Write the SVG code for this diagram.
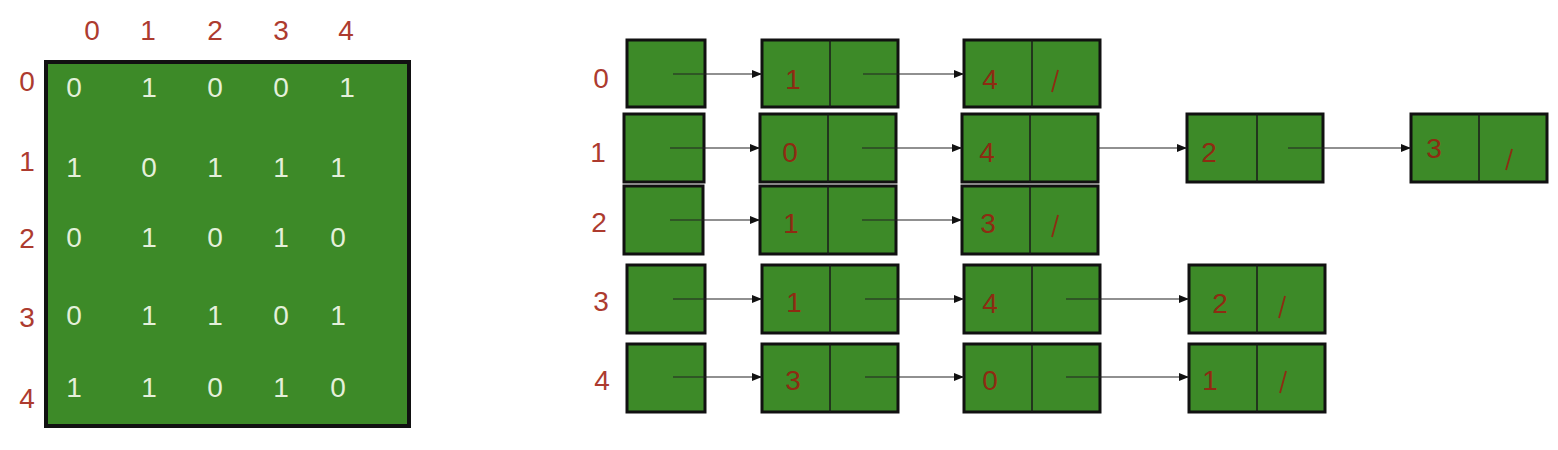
<svg xmlns="http://www.w3.org/2000/svg" width="1558" height="450" viewBox="0 0 1558 450">
<defs>
<marker id="ah" markerWidth="10" markerHeight="8" refX="10" refY="4" orient="auto" markerUnits="userSpaceOnUse">
<path d="M0,0 L10,4 L0,8 z" fill="#111"/>
</marker>
<style>
.lbl{font-family:"Liberation Sans",Arial,sans-serif;font-size:28px;fill:#ad3b2f;text-anchor:middle}
.cell{font-family:"Liberation Sans",Arial,sans-serif;font-size:28px;fill:#e4f0da;text-anchor:middle}
.val{font-family:"Liberation Sans",Arial,sans-serif;font-size:28px;fill:#8e2b12;text-anchor:middle}
.box{fill:#3d8a28;stroke:#111;stroke-width:3}
.mat{fill:#3d8a28;stroke:#111;stroke-width:4}
.div{stroke:#1a1a1a;stroke-width:1.5}
.ptr{stroke:#222;stroke-width:1.2;fill:none}
.sl{stroke:#8e2b12;stroke-width:1.8}
</style>
</defs>
<rect width="1558" height="450" fill="#ffffff"/>

<g id="matrix">
<rect class="mat" x="46" y="62" width="363" height="364"/>
<text class="lbl" x="92" y="40">0</text>
<text class="lbl" x="148" y="40">1</text>
<text class="lbl" x="215" y="40">2</text>
<text class="lbl" x="281" y="40">3</text>
<text class="lbl" x="346" y="40">4</text>
<text class="lbl" x="27" y="91">0</text>
<text class="lbl" x="27" y="171">1</text>
<text class="lbl" x="27" y="248">2</text>
<text class="lbl" x="27" y="327">3</text>
<text class="lbl" x="27" y="408">4</text>
<text class="cell" x="74" y="97">0</text><text class="cell" x="149" y="97">1</text><text class="cell" x="215" y="97">0</text><text class="cell" x="281" y="97">0</text><text class="cell" x="347" y="97">1</text>
<text class="cell" x="74" y="177">1</text><text class="cell" x="149" y="177">0</text><text class="cell" x="215" y="177">1</text><text class="cell" x="281" y="177">1</text><text class="cell" x="338" y="177">1</text>
<text class="cell" x="74" y="247">0</text><text class="cell" x="149" y="247">1</text><text class="cell" x="215" y="247">0</text><text class="cell" x="281" y="247">1</text><text class="cell" x="338" y="247">0</text>
<text class="cell" x="74" y="325">0</text><text class="cell" x="149" y="325">1</text><text class="cell" x="215" y="325">1</text><text class="cell" x="281" y="325">0</text><text class="cell" x="338" y="325">1</text>
<text class="cell" x="74" y="397">1</text><text class="cell" x="149" y="397">1</text><text class="cell" x="215" y="397">0</text><text class="cell" x="281" y="397">1</text><text class="cell" x="338" y="397">0</text>
</g>

<g id="list-labels">
<text class="lbl" x="601" y="88">0</text>
<text class="lbl" x="598" y="162">1</text>
<text class="lbl" x="599" y="232">2</text>
<text class="lbl" x="601" y="311">3</text>
<text class="lbl" x="602" y="390">4</text>
</g>

<g id="row0">
<rect class="box" x="627" y="40" width="78" height="67"/>
<g id="r0n1"><rect class="box" x="762" y="40" width="136" height="67"/><line class="div" x1="830" y1="40" x2="830" y2="107"/><text class="val" x="793" y="89">1</text></g>
<g id="r0n2"><rect class="box" x="964" y="40" width="136" height="67"/><line class="div" x1="1032" y1="40" x2="1032" y2="107"/><text class="val" x="990" y="89">4</text><line class="sl" x1="1058" y1="70" x2="1052" y2="92"/></g>
</g>

<g id="row1">
<rect class="box" x="624" y="114" width="80" height="68"/>
<g id="r1n1"><rect class="box" x="760" y="114" width="136" height="68"/><line class="div" x1="828" y1="114" x2="828" y2="182"/><text class="val" x="790" y="162">0</text></g>
<g id="r1n2"><rect class="box" x="962" y="114" width="136" height="68"/><line class="div" x1="1030" y1="114" x2="1030" y2="182"/><text class="val" x="987" y="162">4</text></g>
<g id="r1n3"><rect class="box" x="1187" y="114" width="136" height="68"/><line class="div" x1="1257" y1="114" x2="1257" y2="182"/><text class="val" x="1209" y="162">2</text></g>
<g id="r1n4"><rect class="box" x="1411" y="114" width="136" height="68"/><line class="div" x1="1479" y1="114" x2="1479" y2="182"/><text class="val" x="1434" y="158">3</text><line class="sl" x1="1512" y1="149" x2="1506" y2="170"/></g>
</g>

<g id="row2">
<rect class="box" x="624" y="186" width="79" height="68"/>
<g id="r2n1"><rect class="box" x="760" y="186" width="136" height="68"/><line class="div" x1="828" y1="186" x2="828" y2="254"/><text class="val" x="791" y="233">1</text></g>
<g id="r2n2"><rect class="box" x="962" y="186" width="136" height="68"/><line class="div" x1="1030" y1="186" x2="1030" y2="254"/><text class="val" x="988" y="233">3</text><line class="sl" x1="1058" y1="215" x2="1052" y2="237"/></g>
</g>

<g id="row3">
<rect class="box" x="627" y="265" width="78" height="68"/>
<g id="r3n1"><rect class="box" x="762" y="265" width="136" height="68"/><line class="div" x1="830" y1="265" x2="830" y2="333"/><text class="val" x="794" y="312">1</text></g>
<g id="r3n2"><rect class="box" x="964" y="265" width="136" height="68"/><line class="div" x1="1032" y1="265" x2="1032" y2="333"/><text class="val" x="990" y="313">4</text></g>
<g id="r3n3"><rect class="box" x="1189" y="265" width="136" height="68"/><line class="div" x1="1257" y1="265" x2="1257" y2="333"/><text class="val" x="1220" y="313">2</text><line class="sl" x1="1285" y1="296" x2="1279" y2="318"/></g>
</g>

<g id="row4">
<rect class="box" x="627" y="344" width="78" height="68"/>
<g id="r4n1"><rect class="box" x="762" y="344" width="136" height="68"/><line class="div" x1="830" y1="344" x2="830" y2="412"/><text class="val" x="793" y="390">3</text></g>
<g id="r4n2"><rect class="box" x="964" y="344" width="136" height="68"/><line class="div" x1="1032" y1="344" x2="1032" y2="412"/><text class="val" x="990" y="390">0</text></g>
<g id="r4n3"><rect class="box" x="1189" y="344" width="136" height="68"/><line class="div" x1="1257" y1="344" x2="1257" y2="412"/><text class="val" x="1210" y="390">1</text><line class="sl" x1="1286" y1="371" x2="1280" y2="393"/></g>
</g>

<g id="connectors">
<line class="ptr" x1="673" y1="74" x2="762" y2="74" marker-end="url(#ah)"/>
<line class="ptr" x1="863" y1="74" x2="964" y2="74" marker-end="url(#ah)"/>
<line class="ptr" x1="670" y1="148" x2="760" y2="148" marker-end="url(#ah)"/>
<line class="ptr" x1="862" y1="148" x2="962" y2="148" marker-end="url(#ah)"/>
<line class="ptr" x1="1098" y1="148" x2="1187" y2="148" marker-end="url(#ah)"/>
<line class="ptr" x1="1288" y1="148" x2="1411" y2="148" marker-end="url(#ah)"/>
<line class="ptr" x1="670" y1="220" x2="760" y2="220" marker-end="url(#ah)"/>
<line class="ptr" x1="862" y1="220" x2="962" y2="220" marker-end="url(#ah)"/>
<line class="ptr" x1="673" y1="299" x2="762" y2="299" marker-end="url(#ah)"/>
<line class="ptr" x1="865" y1="299" x2="964" y2="299" marker-end="url(#ah)"/>
<line class="ptr" x1="1066" y1="299" x2="1189" y2="299" marker-end="url(#ah)"/>
<line class="ptr" x1="673" y1="377" x2="762" y2="377" marker-end="url(#ah)"/>
<line class="ptr" x1="865" y1="377" x2="964" y2="377" marker-end="url(#ah)"/>
<line class="ptr" x1="1066" y1="377" x2="1189" y2="377" marker-end="url(#ah)"/>
</g>
</svg>
